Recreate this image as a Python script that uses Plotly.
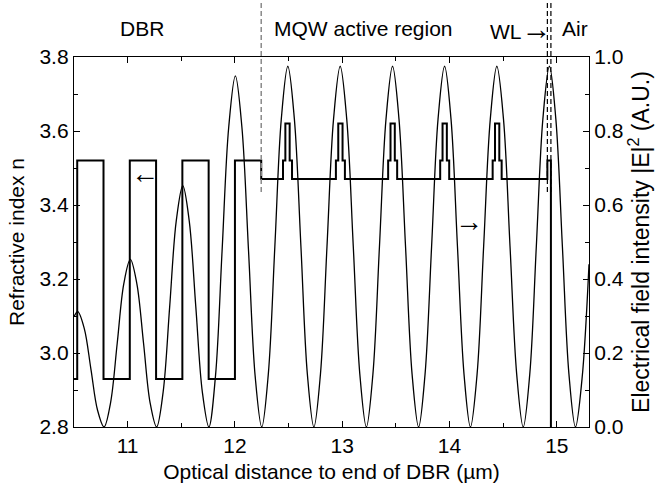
import plotly.graph_objects as go

# ---------------- data ----------------
# Refractive index profile (step line)
n_x = [10.50, 10.53, 10.775, 11.02, 11.265, 11.51, 11.755, 12.00, 12.245,
       12.448, 12.470, 12.510, 12.532,
       12.941, 12.963, 13.003, 13.025,
       13.428, 13.450, 13.490, 13.512,
       13.913, 13.935, 13.975, 13.997,
       14.402, 14.424, 14.464, 14.486,
       14.912, 14.945, 15.30]
n_y = [2.93, 3.52, 2.93, 3.52, 2.93, 3.52, 2.93, 3.52, 3.47,
       3.52, 3.62, 3.52, 3.47,
       3.52, 3.62, 3.52, 3.47,
       3.52, 3.62, 3.52, 3.47,
       3.52, 3.62, 3.52, 3.47,
       3.52, 3.62, 3.52, 3.47,
       3.52, 1.00, 1.00]

# Electrical field intensity |E|^2 (A.U.)
field_x = [10.500, 10.535, 10.596, 10.658, 10.719,
           10.780, 10.841, 10.903, 10.964, 11.025, 11.086, 11.148, 11.209,
           11.270, 11.331, 11.392, 11.453, 11.514, 11.574, 11.635, 11.696,
           11.757, 11.819, 11.880, 11.942, 12.004, 12.065, 12.127, 12.188,
           12.250, 12.311, 12.372, 12.432, 12.493, 12.554, 12.615, 12.675,
           12.736, 12.797, 12.858, 12.919, 12.981, 13.042, 13.103, 13.164,
           13.225, 13.286, 13.347, 13.408, 13.469, 13.529, 13.590, 13.651,
           13.712, 13.772, 13.833, 13.893, 13.954, 14.014, 14.074, 14.135,
           14.195, 14.257, 14.318, 14.380, 14.441, 14.503, 14.564, 14.626,
           14.687, 14.748, 14.809, 14.870, 14.931, 14.991, 15.052, 15.113,
           15.174, 15.235, 15.300]
field_y = [0.298, 0.312, 0.266, 0.156, 0.046,
           0.000, 0.066, 0.227, 0.387, 0.453, 0.387, 0.227, 0.066,
           0.000, 0.095, 0.326, 0.557, 0.652, 0.557, 0.326, 0.095,
           0.000, 0.139, 0.475, 0.810, 0.949, 0.810, 0.475, 0.139,
           0.000, 0.143, 0.488, 0.832, 0.975, 0.832, 0.488, 0.143,
           0.000, 0.143, 0.488, 0.832, 0.975, 0.832, 0.488, 0.143,
           0.000, 0.143, 0.488, 0.832, 0.975, 0.832, 0.488, 0.143,
           0.000, 0.143, 0.488, 0.832, 0.975, 0.832, 0.488, 0.143,
           0.000, 0.143, 0.488, 0.832, 0.975, 0.832, 0.488, 0.143,
           0.000, 0.143, 0.488, 0.832, 0.975, 0.832, 0.488, 0.143,
           0.000, 0.130, 0.440]

x_ticks = [11, 12, 13, 14, 15]
region_labels = ["DBR", "MQW active region",
                 "WL<span style='font-size:30px'>\u2192</span>", "Air"]
region_label_x = [11.13, 13.20, 14.67, 15.17]
boundary_gray_x = [12.245]
boundary_black_x = [14.912, 14.945]

FONT = "Arial, Liberation Sans, sans-serif"

fig = go.Figure()
fig.add_trace(go.Scatter(x=n_x, y=n_y, mode="lines", yaxis="y",
                         line=dict(color="black", width=2, shape="hv"),
                         showlegend=False, hoverinfo="skip"))
fig.add_trace(go.Scatter(x=field_x, y=field_y, mode="lines", yaxis="y2",
                         line=dict(color="black", width=1.3, shape="spline", smoothing=1),
                         showlegend=False, hoverinfo="skip"))

axis_common = dict(showgrid=False, zeroline=False, showline=True, linecolor="black",
                   linewidth=1.3, ticks="inside", ticklen=6, tickwidth=1.3, tickcolor="black",
                   tickfont=dict(family=FONT, size=21, color="black"))

fig.update_layout(
    width=660, height=495,
    margin=dict(l=74, r=67, t=57, b=68),
    plot_bgcolor="white", paper_bgcolor="white",
    font=dict(family=FONT, size=21, color="black"),
    xaxis=dict(range=[10.5, 15.3], tickvals=x_ticks, mirror="ticks",
               minor=dict(dtick=0.5, tick0=10.5, ticks="inside", ticklen=4, tickwidth=1.3, tickcolor="black"),
               title=dict(text="Optical distance to end of DBR (\u00b5m)",
                          font=dict(family=FONT, size=21), standoff=7),
               **axis_common),
    yaxis=dict(range=[2.8, 3.8], tick0=2.8, dtick=0.2, tickformat=".1f",
               minor=dict(dtick=0.1, tick0=2.8, ticks="inside", ticklen=4, tickwidth=1.3, tickcolor="black"),
               title=dict(text="Refractive index n", font=dict(family=FONT, size=21), standoff=9),
               **axis_common),
    yaxis2=dict(range=[0, 1.0], tick0=0, dtick=0.2, tickformat=".1f", overlaying="y", side="right",
                minor=dict(dtick=0.1, tick0=0, ticks="inside", ticklen=4, tickwidth=1.3, tickcolor="black"),
                title=dict(text="Electrical field intensity |E|<sup>2</sup> (A.U.)",
                           font=dict(family=FONT, size=23), standoff=8),
                **axis_common),
)

for lx, lt in zip(region_label_x, region_labels):
    fig.add_annotation(x=lx, y=1.078, xref="x", yref="paper", text=lt, showarrow=False,
                       xanchor="center", yanchor="middle", font=dict(family=FONT, size=21, color="black"))

# small direction arrows (which axis each curve belongs to)
fig.add_annotation(x=11.166, y=3.486, xref="x", yref="y", text="\u2190", showarrow=False,
                   xanchor="center", yanchor="middle", font=dict(family=FONT, size=28, color="black"))
fig.add_annotation(x=14.185, y=0.555, xref="x", yref="y2", text="\u2192", showarrow=False,
                   xanchor="center", yanchor="middle", font=dict(family=FONT, size=28, color="black"))

for bx in boundary_gray_x:
    fig.add_shape(type="line", xref="x", yref="paper", x0=bx, x1=bx, y0=0.635, y1=1.146,
                  line=dict(color="#8a8a8a", width=1.5, dash="5px,3px"))
for bx in boundary_black_x:
    fig.add_shape(type="line", xref="x", yref="paper", x0=bx, x1=bx, y0=0.635, y1=1.146,
                  line=dict(color="black", width=1.2, dash="5px,3px"))

fig.write_html("out.html")
